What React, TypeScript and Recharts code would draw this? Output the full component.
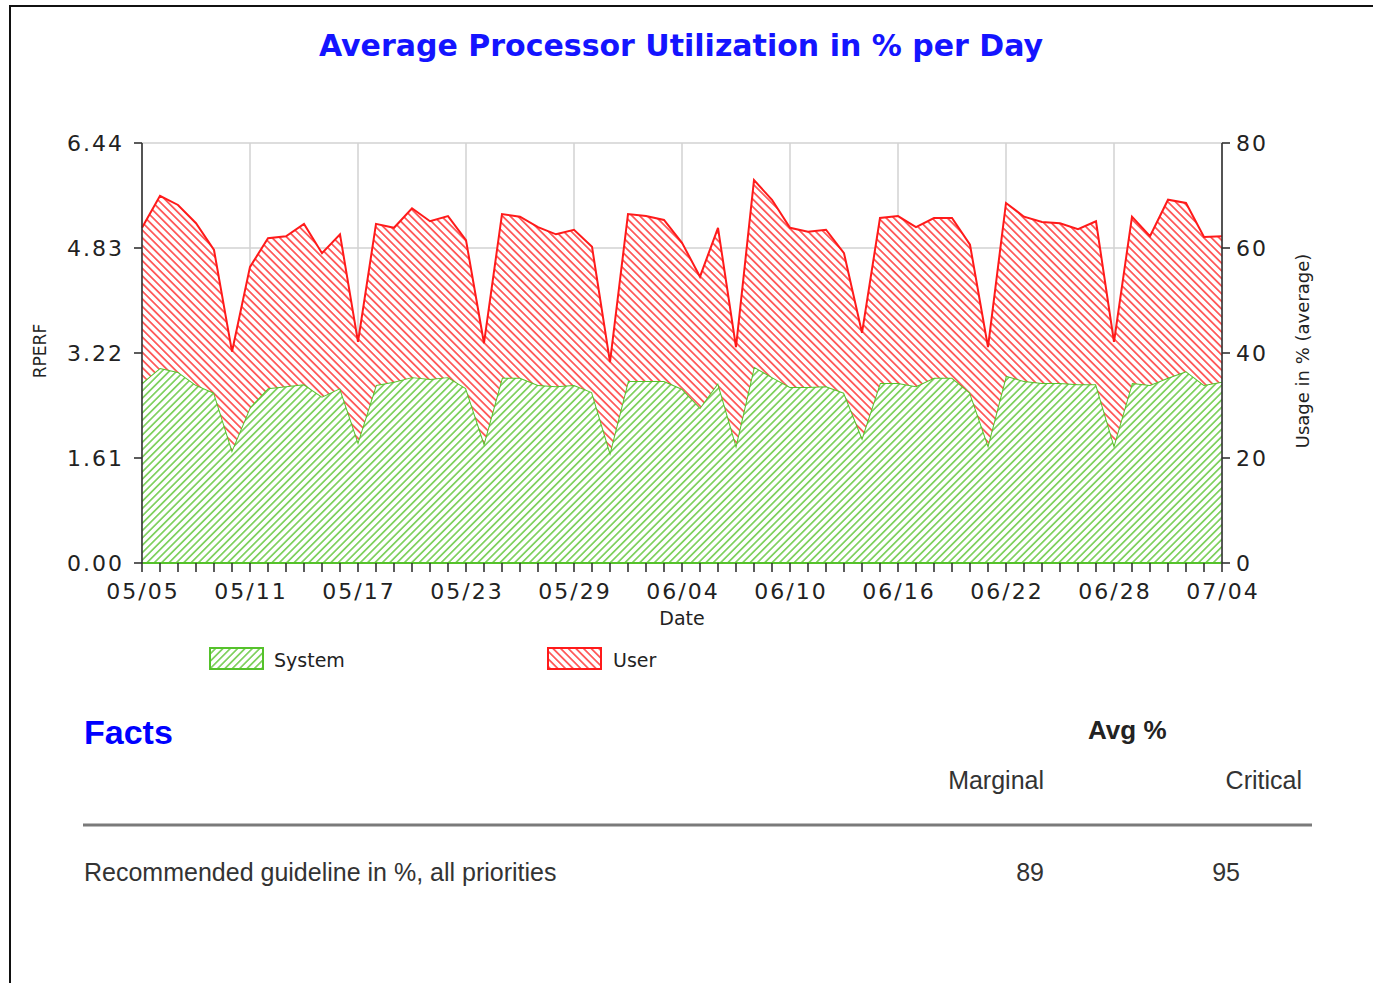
import React from "react";
import { AreaChart, Area, XAxis, YAxis, CartesianGrid } from "recharts";

// daily dates 05/05 .. 07/04
const DATES = [
  "05/05", "05/06", "05/07", "05/08", "05/09", "05/10", "05/11", "05/12", "05/13", "05/14",
  "05/15", "05/16", "05/17", "05/18", "05/19", "05/20", "05/21", "05/22", "05/23", "05/24",
  "05/25", "05/26", "05/27", "05/28", "05/29", "05/30", "05/31", "06/01", "06/02", "06/03",
  "06/04", "06/05", "06/06", "06/07", "06/08", "06/09", "06/10", "06/11", "06/12", "06/13",
  "06/14", "06/15", "06/16", "06/17", "06/18", "06/19", "06/20", "06/21", "06/22", "06/23",
  "06/24", "06/25", "06/26", "06/27", "06/28", "06/29", "06/30", "07/01", "07/02", "07/03",
  "07/04",
];

// RPERF, system part (bottom of the stack)
const SYSTEM = [
  2.76, 2.99, 2.93, 2.73, 2.61, 1.73, 2.39, 2.68, 2.71, 2.74,
  2.55, 2.68, 1.86, 2.73, 2.78, 2.85, 2.82, 2.85, 2.68, 1.84,
  2.84, 2.84, 2.73, 2.71, 2.73, 2.62, 1.70, 2.79, 2.79, 2.79,
  2.67, 2.38, 2.76, 1.81, 3.01, 2.85, 2.70, 2.70, 2.71, 2.61,
  1.92, 2.76, 2.76, 2.71, 2.84, 2.84, 2.61, 1.81, 2.87, 2.79,
  2.76, 2.76, 2.74, 2.74, 1.81, 2.76, 2.73, 2.84, 2.94, 2.73,
  2.78,
];

// RPERF, user part (stacked on system)
const USER = [
  2.38, 2.64, 2.56, 2.48, 2.19, 1.51, 2.15, 2.30, 2.30, 2.46,
  2.20, 2.36, 1.53, 2.47, 2.36, 2.59, 2.42, 2.47, 2.27, 1.53,
  2.51, 2.47, 2.42, 2.33, 2.38, 2.23, 1.38, 2.56, 2.53, 2.47,
  2.24, 2.01, 2.38, 1.50, 2.86, 2.72, 2.44, 2.38, 2.40, 2.14,
  1.61, 2.53, 2.56, 2.44, 2.45, 2.45, 2.27, 1.50, 2.65, 2.52,
  2.47, 2.45, 2.38, 2.50, 1.58, 2.55, 2.28, 2.73, 2.58, 2.27,
  2.23,
];

const DATE_LABELS = ["05/05", "05/11", "05/17", "05/23", "05/29", "06/04", "06/10", "06/16", "06/22", "06/28", "07/04"];
const RPERF_TICKS = [0, 1.61, 3.22, 4.83, 6.44];
const USAGE_TICKS = [0, 20, 40, 60, 80];

const data = DATES.map((date, i) => ({ date, system: SYSTEM[i], user: USER[i] }));

const GREEN = "#55c22b";
const RED = "#ff1a1a";
const AXIS_FONT = "'DejaVu Sans', sans-serif";
const FACTS_FONT = "'Liberation Sans', Arial, sans-serif";

const DateTick = (props: any) => {
  const { x, y, payload } = props;
  if (!DATE_LABELS.includes(payload.value)) return null;
  return (
    <text x={x + 1} y={y} dy="0.71em" textAnchor="middle" fill="#222" fontSize={22} fontFamily={AXIS_FONT} letterSpacing={2}>
      {payload.value}
    </text>
  );
};

function Hatch({ id, color, angle, size }: { id: string; color: string; angle: number; size: number }) {
  return (
    <pattern id={id} width={size} height={size} patternUnits="userSpaceOnUse" patternTransform={`rotate(${angle})`}>
      <rect width={size} height={size} fill="#fff" />
      <line x1={size / 2} y1={0} x2={size / 2} y2={size} stroke={color} strokeWidth={1.3} />
    </pattern>
  );
}

export default function App() {
  return (
    <div style={{ position: "absolute", left: 0, top: 0, width: 1373, height: 983, overflow: "hidden", background: "#fff" }}>
      <div style={{ position: "absolute", left: 9, top: 5, width: 1500, height: 1100, border: "2px solid #111" }} />

      <div style={{ position: "absolute", left: 0, top: 0 }}>
        <AreaChart width={1373} height={640} data={data} margin={{ top: 143, right: 71, left: 62, bottom: 15 }}>
          <defs>
            <Hatch id="hatchSystem" color={GREEN} angle={45} size={5.2} />
            <Hatch id="hatchUser" color={RED} angle={-45} size={5.4} />
          </defs>
          <CartesianGrid yAxisId="left" stroke="#d2d2d2" strokeWidth={1.5} verticalValues={DATE_LABELS} />
          <XAxis
            dataKey="date"
            interval={0}
            tick={<DateTick />}
            tickSize={9}
            tickMargin={11}
            height={62}
            axisLine={{ stroke: GREEN, strokeWidth: 2 }}
            tickLine={{ stroke: "#333", strokeWidth: 1.6 }}
            label={{ value: "Date", position: "insideBottom", offset: 0, fill: "#222", fontSize: 19, fontFamily: AXIS_FONT }}
          />
          <YAxis
            yAxisId="left"
            width={80}
            domain={[0, 6.44]}
            ticks={RPERF_TICKS}
            tickFormatter={(v: number) => v.toFixed(2)}
            tickSize={8}
            tickMargin={10}
            axisLine={{ stroke: "#333", strokeWidth: 1.6 }}
            tickLine={{ stroke: "#333", strokeWidth: 1.6 }}
            tick={{ fill: "#222", fontSize: 22, fontFamily: AXIS_FONT, letterSpacing: 2 }}
          />
          <YAxis
            yAxisId="right"
            orientation="right"
            type="number"
            width={80}
            domain={[0, 80]}
            allowDataOverflow
            ticks={USAGE_TICKS}
            tickSize={8}
            tickMargin={6}
            axisLine={{ stroke: "#333", strokeWidth: 1.6 }}
            tickLine={{ stroke: "#333", strokeWidth: 1.6 }}
            tick={{ fill: "#222", fontSize: 22, fontFamily: AXIS_FONT, letterSpacing: 2 }}
          />
          <Area
            yAxisId="left"
            type="linear"
            dataKey="system"
            name="System"
            stackId="cpu"
            stroke={GREEN}
            strokeWidth={2}
            fill="url(#hatchSystem)"
            fillOpacity={1}
            dot={false}
            activeDot={false}
            isAnimationActive={false}
          />
          <Area
            yAxisId="left"
            type="linear"
            dataKey="user"
            name="User"
            stackId="cpu"
            stroke={RED}
            strokeWidth={2}
            fill="url(#hatchUser)"
            fillOpacity={1}
            dot={false}
            activeDot={false}
            isAnimationActive={false}
          />
        </AreaChart>
      </div>

      <svg width={1373} height={983} style={{ position: "absolute", left: 0, top: 0, pointerEvents: "none" }}>
        <defs>
          <Hatch id="legendSystem" color={GREEN} angle={45} size={5.2} />
          <Hatch id="legendUser" color={RED} angle={-45} size={5.4} />
        </defs>
        <text x={681} y={56} textAnchor="middle" fill="#1414ff" fontSize={30} fontWeight="bold" fontFamily={AXIS_FONT}>
          Average Processor Utilization in % per Day
        </text>
        <text transform="translate(46,351) rotate(-90)" textAnchor="middle" fill="#222" fontSize={17} fontFamily={AXIS_FONT}>
          RPERF
        </text>
        <text transform="translate(1309,351) rotate(-90)" textAnchor="middle" fill="#222" fontSize={18} fontFamily={AXIS_FONT}>
          Usage in % (average)
        </text>

        <rect x={210} y={648} width={53} height={21} fill="url(#legendSystem)" stroke={GREEN} strokeWidth={2} />
        <text x={274} y={667} fill="#222" fontSize={19} fontFamily={AXIS_FONT}>System</text>
        <rect x={548} y={648} width={53} height={21} fill="url(#legendUser)" stroke={RED} strokeWidth={2} />
        <text x={613} y={667} fill="#222" fontSize={19} fontFamily={AXIS_FONT}>User</text>

        <text x={84} y={744} fill="#0000ff" fontSize={34} fontWeight="bold" fontFamily={FACTS_FONT}>Facts</text>
        <text x={1088} y={739} fill="#222" fontSize={26} fontWeight="bold" fontFamily={FACTS_FONT}>Avg %</text>
        <text x={1044} y={789} textAnchor="end" fill="#333" fontSize={25} fontFamily={FACTS_FONT}>Marginal</text>
        <text x={1302} y={789} textAnchor="end" fill="#333" fontSize={25} fontFamily={FACTS_FONT}>Critical</text>
        <line x1={83} y1={825} x2={1312} y2={825} stroke="#7a7a7a" strokeWidth={3} />
        <text x={84} y={881} fill="#333" fontSize={25} fontFamily={FACTS_FONT}>Recommended guideline in %, all priorities</text>
        <text x={1044} y={881} textAnchor="end" fill="#333" fontSize={25} fontFamily={FACTS_FONT}>89</text>
        <text x={1240} y={881} textAnchor="end" fill="#333" fontSize={25} fontFamily={FACTS_FONT}>95</text>
      </svg>
    </div>
  );
}
